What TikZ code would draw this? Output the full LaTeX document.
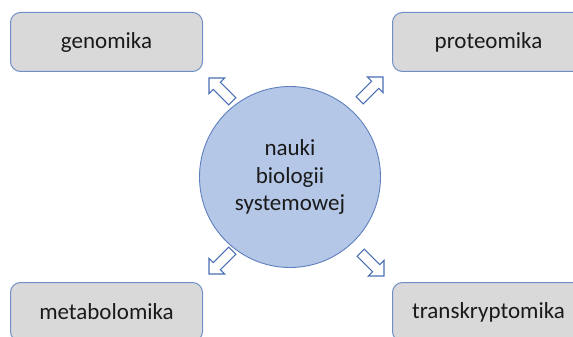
\documentclass[tikz,border=0pt]{standalone}
\usepackage{fontspec}
\setmainfont{Carlito}
\definecolor{boxfill}{HTML}{D9D9D9}
\definecolor{boxline}{HTML}{7090C4}
\definecolor{circfill}{HTML}{B4C7E7}
\definecolor{circline}{HTML}{5F80BE}
\definecolor{arrline}{HTML}{4A6EB5}
\definecolor{txt}{HTML}{1A1A1A}
\tikzset{
  sciencebox/.style={draw=boxline, fill=boxfill, line width=1pt, rounded corners=10pt,
    minimum width=192pt, minimum height=59pt, inner sep=0pt, anchor=north west,
    text=txt, font=\fontsize{23}{27}\selectfont},
  hub/.style={circle, draw=circline, fill=circfill, line width=0.9pt, minimum size=181pt,
    inner sep=0pt, align=center, text=txt, font=\fontsize{23}{27.5}\selectfont},
  arrowstyle/.style={draw=arrline, fill=white, line width=1.1pt, line join=miter},
  blockarrow/.pic={\path[arrowstyle] (0,0) -- (-11,-11) -- (-11,-5) -- (-33,-5) -- (-33,5) -- (-11,5) -- (-11,11) -- cycle;}
}
\begin{document}
\begin{tikzpicture}[x=1pt,y=-1pt]
\useasboundingbox[clip] (0,0) rectangle (573,337);
\fill[white] (0,0) rectangle (573,337);
\node[sciencebox] (gen) at (10,12) {genomika};
\node[sciencebox] (prot) at (392,12) {proteomika};
\node[sciencebox] (meta) at (10,282) {metabolomika};
\node[sciencebox] (trans) at (392,282) {transkryptomika};
\node[hub] (hub) at (290,177) {nauki\\biologii\\systemowej};
\pic[rotate=135] at (209,78) {blockarrow};
\pic[rotate=45] at (383,77) {blockarrow};
\pic[rotate=225] at (209,274) {blockarrow};
\pic[rotate=315] at (384,276) {blockarrow};
\end{tikzpicture}
\end{document}
